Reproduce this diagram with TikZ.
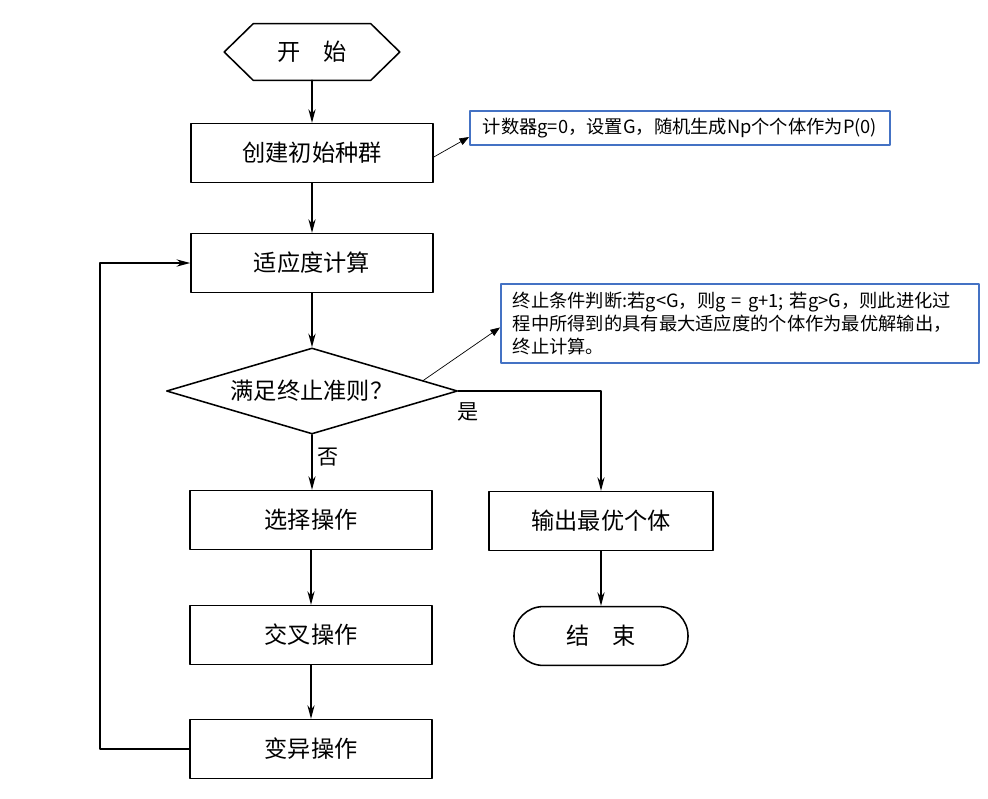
\documentclass[tikz,border=0pt]{standalone}
\usepackage{fontspec}
\setmainfont{Noto Sans CJK SC}
\usepackage{tikz}
\usepackage{xcolor}
\usetikzlibrary{arrows.meta,calc,positioning,shapes.geometric}
\definecolor{noteblue}{HTML}{4472C4}
\tikzset{
  every picture/.append style={line cap=round,line join=round},
  flow box/.style={draw,line width=1.1pt,minimum width=6.05cm,minimum height=1.47cm,font=\fontsize{16.5}{18}\selectfont},
  flow decision/.style={draw,diamond,aspect=3.4,line width=1.1pt,inner sep=0pt,minimum width=7.275cm,minimum height=2.15cm,font=\fontsize{16.5}{18}\selectfont},
  flow term/.style={draw,line width=1.1pt,rounded corners=0.73cm,minimum width=4.35cm,minimum height=1.47cm,font=\fontsize{16.5}{18}\selectfont},
  flow arrow/.style={line width=1.1pt,-{Stealth[length=3.4mm,width=1.8mm]}},
  flow line/.style={line width=1.1pt},
  flow label/.style={font=\fontsize{15}{17}\selectfont},
  flow note/.style={draw=noteblue,line width=1.2pt,align=left,font=\fontsize{13}{16.3}\selectfont},
  flow pointer/.style={line width=0.5pt,-{Triangle[length=2.4mm,width=1.8mm]}}
}
\begin{document}
\begin{tikzpicture}[x=0.025cm,y=-0.025cm]
  \useasboundingbox[fill=white] (0,0) rectangle (988,798);
  % start: hexagon drawn round a plain node
  \node[minimum width=4.375cm,minimum height=1.4cm,font=\fontsize{16.5}{18}\selectfont] (start) at (312,52) {开\quad 始};
  \draw[flow line] (start.west) -- ($(start.north west)+(29,0)$) -- ($(start.north east)+(-29,0)$)
    -- (start.east) -- ($(start.south east)+(-29,0)$) -- ($(start.south west)+(29,0)$) -- cycle;
  \node[flow box] (init) at (312,153) {创建初始种群};
  \node[flow box] (fit) at (312,263) {适应度计算};
  \node[flow decision] (judge) at (312,391) {满足终止准则？};
  \node[flow box] (sel) at (311,520) {选择操作};
  \node[flow box] (cross) at (311,635) {交叉操作};
  \node[flow box] (mut) at (311,749) {变异操作};
  \node[flow box,minimum width=5.6cm] (out) at (601,521) {输出最优个体};
  \node[flow term] (stop) at (601,636) {结\quad 束};
  % notes
  \node[flow note,minimum width=10.5cm,minimum height=0.85cm] (note1) at (680,128) {计数器g=0，设置G，随机生成Np个个体作为P(0)};
  \node[flow note,anchor=north west,text width=11.35cm,minimum height=1.98cm,inner xsep=0.3cm] (note2) at (500,283)
    {终止条件判断:若g<G，则g = g+1; 若g>G，则此进化过\\程中所得到的具有最大适应度的个体作为最优解输出，\\终止计算。};
  % main flow
  \draw[flow arrow] (start) -- (init);
  \draw[flow arrow] (init) -- (fit);
  \draw[flow arrow] (fit) -- (judge);
  \draw[flow arrow] (judge.south) -- node[flow label,right,pos=0.4] {否} (judge.south |- sel.north);
  \draw[flow arrow] (judge.east) -| (out.north);
  \node[flow label] (yes) at (468,412) {是};
  \draw[flow arrow] (sel) -- (cross);
  \draw[flow arrow] (cross) -- (mut);
  \draw[flow arrow] (out) -- (stop);
  \coordinate (back) at (100,749);
  \draw[flow arrow] (mut.west) -- (back) |- (fit.west);
  % pointers to notes
  \draw[flow pointer] ($(init.east)+(0,4)$) -- ($(note1.west)+(0,9)$);
  \draw[flow pointer] ($(judge.north)!0.76!(judge.east)$) -- ($(note2.west)+(0,4)$);
\end{tikzpicture}
\end{document}
